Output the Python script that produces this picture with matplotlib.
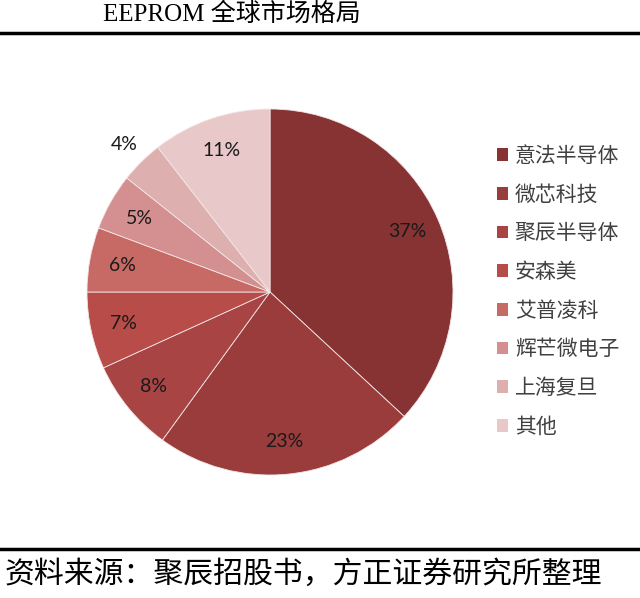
import numpy as np
import matplotlib
matplotlib.use("Agg")
from matplotlib import pyplot as plt
from matplotlib.patches import Patch
from matplotlib.lines import Line2D

companies = ["意法半导体", "微芯科技", "聚辰半导体", "安森美", "艾普凌科", "辉芒微电子", "上海复旦", "其他"]
# slice sizes; labels are the rounded figures printed on the chart
shares = [36.9, 23.1, 8.2, 6.8, 5.7, 5.0, 3.8, 10.5]
pct_labels = ["37%", "23%", "8%", "7%", "6%", "5%", "4%", "11%"]
colors = ["#883333", "#9b3c3c", "#a84444", "#b84c48", "#c76a66", "#d49090", "#ddafaf", "#e8c8c8"]

title = "EEPROM 全球市场格局"
source = "资料来源：聚辰招股书，方正证券研究所整理"

W, H = 640, 598
fig = plt.figure(figsize=(W/100, H/100), dpi=100)

# pie centre (270, 292) px from top-left, radius 183 px
cx, cy, r = 270, 292, 183
ax = fig.add_axes([(cx-r)/W, (H-cy-r)/H, 2*r/W, 2*r/H])
wedges, texts = ax.pie(shares, colors=colors, startangle=90, counterclock=False,
                       wedgeprops=dict(edgecolor="#f3e6e6", linewidth=0.6))
ax.set_xlim(-1, 1)
ax.set_ylim(-1, 1)

for i, (w, lab) in enumerate(zip(wedges, pct_labels)):
    mid = np.deg2rad((w.theta1 + w.theta2) / 2)
    d = 1.13 if i == 6 else 0.82  # small slice label sits outside the pie
    ax.text(d*np.cos(mid), d*np.sin(mid), lab, ha="center", va="center",
            fontsize=14, color="#1a1a1a", family="Lato")

handles = [Patch(facecolor=c, edgecolor="none") for c in colors]
fig.legend(handles, companies, loc="upper left", bbox_to_anchor=(497/W, 1-145/H),
           frameon=False, prop=dict(family="Noto Sans CJK SC", size=15),
           labelcolor="#404040", handlelength=0.55, handleheight=0.55,
           handletextpad=0.3, labelspacing=0.8, borderpad=0, borderaxespad=0)

fig.text(232/W, 1-14/H, title, ha="center", va="center", fontsize=18,
         family=["Liberation Serif", "Noto Sans CJK SC"], color="black")
fig.add_artist(Line2D([0, 1], [1-33/H, 1-33/H], color="black", linewidth=2.5))
fig.add_artist(Line2D([0, 1], [1-549/H, 1-549/H], color="black", linewidth=2.5))
fig.text(5/W, 1-574/H, source, ha="left", va="center", fontsize=21.5,
         family="Noto Sans CJK SC", color="black")

fig.savefig("out.png", dpi=100)
